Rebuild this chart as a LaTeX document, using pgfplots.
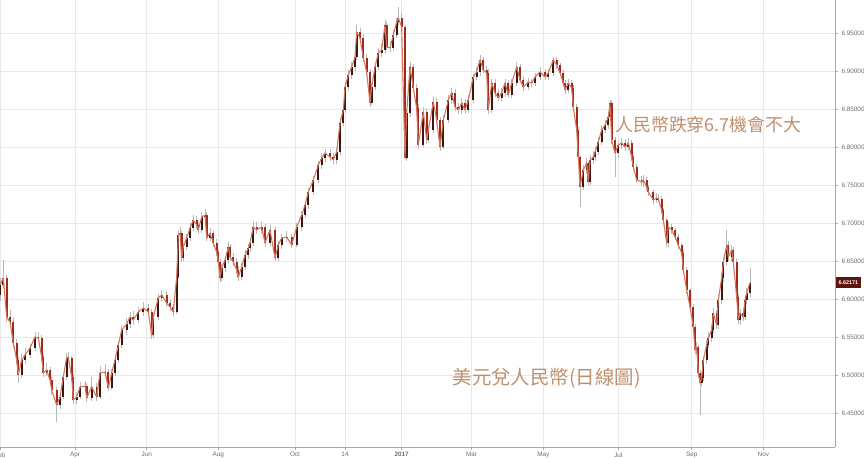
\documentclass[border=0pt]{standalone}
\usepackage{pgfplots}
\usepackage{pgfplotstable}
\pgfplotsset{compat=1.18}
\usepackage{fontspec}
\setmainfont{Liberation Sans}
\newfontfamily\cjk{Noto Sans CJK TC}

\definecolor{gridcol}{HTML}{E8E8E8}
\definecolor{axcol}{HTML}{A8A8A8}
\definecolor{labcol}{HTML}{6E6E6E}
\definecolor{linecol}{HTML}{D6765F}
\definecolor{wickcol}{HTML}{B8B8B8}
\definecolor{upcol}{HTML}{3A1812}
\definecolor{dncol}{HTML}{A22A18}
\definecolor{pricecol}{HTML}{5E150C}
\definecolor{anncol}{HTML}{BF9070}

% USD/CNY daily, x = trading day index
\pgfplotstableread{
x o h l c
0 6.6050 6.628 6.598 6.6184
2 6.6184 6.6513 6.615 6.6276
4 6.6276 6.632 6.570 6.5763
6 6.5763 6.585 6.563 6.5697
8 6.5697 6.575 6.536 6.5421
10 6.5421 6.548 6.514 6.5197
11 6.5197 6.524 6.4895 6.5000
13 6.5000 6.528 6.496 6.5197
15 6.5197 6.535 6.515 6.5263
18 6.5263 6.541 6.522 6.5355
21 6.5355 6.556 6.531 6.5500
23 6.5500 6.557 6.543 6.5487
25 6.5487 6.552 6.518 6.5237
26 6.5237 6.528 6.497 6.5026
28 6.5026 6.516 6.499 6.5066
30 6.5066 6.511 6.488 6.4934
31 6.4934 6.497 6.474 6.4803
34 6.4803 6.484 6.4382 6.4605
36 6.4605 6.477 6.455 6.4711
38 6.4711 6.502 6.468 6.4974
40 6.4974 6.529 6.494 6.5237
41 6.5237 6.530 6.516 6.5224
43 6.5224 6.525 6.492 6.4974
44 6.4974 6.501 6.462 6.4671
46 6.4671 6.478 6.462 6.4711
48 6.4711 6.491 6.468 6.4842
51 6.4842 6.492 6.479 6.4855
52 6.4855 6.489 6.465 6.4697
55 6.4697 6.498 6.466 6.4842
58 6.4842 6.489 6.466 6.4711
60 6.4711 6.512 6.468 6.5026
63 6.5026 6.514 6.497 6.5040
65 6.5040 6.508 6.479 6.4829
67 6.4829 6.508 6.480 6.5026
69 6.5026 6.526 6.499 6.5197
71 6.5197 6.545 6.516 6.5395
73 6.5395 6.566 6.536 6.5592
76 6.5592 6.575 6.553 6.5671
78 6.5671 6.583 6.562 6.5763
80 6.5763 6.584 6.566 6.5724
83 6.5724 6.590 6.568 6.5829
86 6.5829 6.596 6.578 6.5882
89 6.5882 6.594 6.577 6.5829
91 6.5829 6.587 6.548 6.5526
92 6.5526 6.581 6.549 6.5763
95 6.5763 6.607 6.572 6.6013
97 6.6013 6.612 6.596 6.6053
100 6.6053 6.610 6.589 6.5947
102 6.5947 6.599 6.584 6.5895
104 6.5895 6.594 6.578 6.5829
106 6.5829 6.633 6.580 6.6289
107 6.6289 6.691 6.626 6.6842
108 6.6842 6.695 6.679 6.6868
109 6.6868 6.690 6.649 6.6539
110 6.6539 6.674 6.650 6.6684
112 6.6684 6.686 6.664 6.6803
114 6.6803 6.700 6.676 6.6934
116 6.6934 6.711 6.689 6.7039
118 6.7039 6.709 6.692 6.6974
119 6.6974 6.701 6.685 6.6908
121 6.6908 6.714 6.687 6.7079
123 6.7079 6.718 6.703 6.7105
124 6.7105 6.714 6.676 6.6803
126 6.6803 6.694 6.676 6.6868
128 6.6868 6.691 6.669 6.6737
130 6.6737 6.679 6.657 6.6618
131 6.6618 6.666 6.644 6.6487
132 6.6487 6.652 6.623 6.6276
133 6.6276 6.646 6.624 6.6408
135 6.6408 6.657 6.636 6.6513
137 6.6513 6.675 6.647 6.6684
138 6.6684 6.672 6.650 6.6553
140 6.6553 6.660 6.644 6.6487
142 6.6487 6.654 6.633 6.6382
143 6.6382 6.643 6.624 6.6289
145 6.6289 6.648 6.625 6.6421
147 6.6421 6.664 6.638 6.6579
149 6.6579 6.673 6.653 6.6671
150 6.6671 6.680 6.662 6.6737
152 6.6737 6.702 6.670 6.6947
154 6.6947 6.701 6.686 6.6908
157 6.6908 6.702 6.686 6.6947
159 6.6947 6.699 6.669 6.6737
162 6.6737 6.697 6.670 6.6908
165 6.6908 6.695 6.650 6.6539
167 6.6539 6.676 6.650 6.6711
169 6.6711 6.686 6.666 6.6803
172 6.6803 6.689 6.675 6.6816
175 6.6816 6.686 6.667 6.6711
178 6.6711 6.700 6.668 6.6947
181 6.6947 6.716 6.690 6.7105
183 6.7105 6.729 6.706 6.7237
185 6.7237 6.746 6.719 6.7408
188 6.7408 6.762 6.737 6.7566
191 6.7566 6.782 6.752 6.7763
193 6.7763 6.792 6.771 6.7855
195 6.7855 6.798 6.780 6.7921
198 6.7921 6.797 6.781 6.7868
200 6.7868 6.792 6.777 6.7829
202 6.7829 6.799 6.778 6.7934
204 6.7934 6.838 6.790 6.8316
206 6.8316 6.855 6.827 6.8487
207 6.8487 6.886 6.845 6.8789
209 6.8789 6.901 6.874 6.8947
211 6.8947 6.912 6.890 6.9053
213 6.9053 6.925 6.900 6.9184
214 6.9184 6.960 6.914 6.9513
216 6.9513 6.957 6.938 6.9434
218 6.9434 6.949 6.912 6.9171
220 6.9171 6.922 6.894 6.8987
222 6.8987 6.903 6.853 6.8579
223 6.8579 6.884 6.855 6.8789
225 6.8789 6.911 6.875 6.9053
227 6.9053 6.930 6.901 6.9237
229 6.9237 6.935 6.918 6.9276
231 6.9276 6.967 6.923 6.9605
232 6.9605 6.964 6.927 6.9316
234 6.9316 6.939 6.925 6.9303
236 6.9303 6.954 6.926 6.9474
238 6.9474 6.970 6.943 6.9645
239 6.9645 6.9842 6.960 6.9697
241 6.9697 6.976 6.952 6.9579
243 6.9579 6.960 6.7842 6.7855
244 6.7855 6.850 6.782 6.8447
246 6.8447 6.912 6.840 6.9053
248 6.9053 6.909 6.872 6.8776
250 6.8776 6.883 6.846 6.8513
251 6.8513 6.856 6.797 6.8026
254 6.8026 6.852 6.800 6.8461
256 6.8461 6.851 6.804 6.8092
257 6.8092 6.829 6.805 6.8224
260 6.8224 6.866 6.818 6.8592
262 6.8592 6.864 6.830 6.8355
264 6.8355 6.840 6.795 6.8000
266 6.8000 6.842 6.797 6.8355
269 6.8355 6.868 6.831 6.8618
271 6.8618 6.878 6.857 6.8711
273 6.8711 6.876 6.848 6.8526
275 6.8526 6.858 6.843 6.8487
277 6.8487 6.864 6.844 6.8579
279 6.8579 6.863 6.844 6.8487
281 6.8487 6.868 6.845 6.8618
284 6.8618 6.898 6.858 6.8921
286 6.8921 6.905 6.888 6.8987
288 6.8987 6.921 6.894 6.9145
290 6.9145 6.919 6.897 6.9013
292 6.9013 6.906 6.893 6.8974
293 6.8974 6.902 6.844 6.8487
295 6.8487 6.890 6.845 6.8842
297 6.8842 6.889 6.866 6.8711
299 6.8711 6.876 6.860 6.8645
301 6.8645 6.877 6.860 6.8711
303 6.8711 6.890 6.866 6.8842
305 6.8842 6.888 6.864 6.8684
307 6.8684 6.890 6.864 6.8842
310 6.8842 6.912 6.880 6.9053
312 6.9053 6.909 6.884 6.8882
314 6.8882 6.893 6.874 6.8789
317 6.8789 6.891 6.875 6.8855
319 6.8855 6.890 6.879 6.8842
321 6.8842 6.897 6.880 6.8921
324 6.8921 6.905 6.888 6.8987
327 6.8987 6.903 6.888 6.8921
329 6.8921 6.902 6.888 6.8974
332 6.8974 6.919 6.893 6.9145
334 6.9145 6.918 6.903 6.9079
336 6.9079 6.911 6.893 6.8974
338 6.8974 6.901 6.880 6.8842
339 6.8842 6.888 6.870 6.8750
341 6.8750 6.890 6.871 6.8842
343 6.8842 6.888 6.873 6.8776
344 6.8776 6.881 6.848 6.8526
346 6.8526 6.856 6.818 6.8224
347 6.8224 6.826 6.782 6.7868
348 6.7868 6.790 6.7211 6.7474
350 6.7474 6.776 6.744 6.7697
352 6.7697 6.786 6.765 6.7789
353 6.7789 6.782 6.749 6.7539
354 6.7539 6.789 6.750 6.7829
356 6.7829 6.795 6.778 6.7868
357 6.7868 6.800 6.782 6.7934
359 6.7934 6.813 6.789 6.8066
361 6.8066 6.829 6.802 6.8224
363 6.8224 6.836 6.818 6.8289
365 6.8289 6.846 6.824 6.8395
366 6.8395 6.862 6.835 6.8579
367 6.8579 6.861 6.804 6.8092
369 6.8092 6.813 6.760 6.7921
371 6.7921 6.808 6.786 6.8026
373 6.8026 6.812 6.798 6.8053
375 6.8053 6.811 6.795 6.8000
377 6.8000 6.812 6.796 6.8053
379 6.8053 6.809 6.782 6.7868
380 6.7868 6.790 6.769 6.7737
382 6.7737 6.777 6.752 6.7566
385 6.7566 6.762 6.749 6.7539
386 6.7539 6.763 6.748 6.7566
388 6.7566 6.760 6.742 6.7474
389 6.7474 6.750 6.736 6.7408
392 6.7408 6.745 6.725 6.7303
394 6.7303 6.739 6.726 6.7329
395 6.7329 6.738 6.727 6.7316
397 6.7316 6.735 6.712 6.7171
398 6.7171 6.720 6.699 6.7039
400 6.7039 6.707 6.669 6.6737
401 6.6737 6.701 6.668 6.6947
403 6.6947 6.699 6.686 6.6908
405 6.6908 6.694 6.677 6.6816
407 6.6816 6.685 6.666 6.6711
409 6.6711 6.674 6.656 6.6605
410 6.6605 6.664 6.634 6.6382
412 6.6382 6.642 6.607 6.6118
414 6.6118 6.615 6.585 6.5895
416 6.5895 6.593 6.558 6.5632
417 6.5632 6.567 6.528 6.5329
418 6.5329 6.543 6.527 6.5368
419 6.5368 6.540 6.497 6.5026
420 6.5026 6.506 6.4474 6.4895
421 6.4895 6.503 6.485 6.4961
422 6.4961 6.525 6.492 6.5197
424 6.5197 6.546 6.515 6.5395
425 6.5395 6.556 6.535 6.5487
427 6.5487 6.566 6.544 6.5592
428 6.5592 6.588 6.555 6.5816
430 6.5816 6.586 6.561 6.5658
431 6.5658 6.605 6.561 6.5987
433 6.5987 6.634 6.594 6.6276
434 6.6276 6.655 6.623 6.6487
436 6.6487 6.691 6.644 6.6711
437 6.6711 6.676 6.650 6.6553
439 6.6553 6.671 6.650 6.6645
440 6.6645 6.669 6.644 6.6487
442 6.6487 6.653 6.598 6.6026
443 6.6026 6.606 6.567 6.5724
444 6.5724 6.587 6.566 6.5816
446 6.5816 6.588 6.571 6.5763
447 6.5763 6.604 6.572 6.5987
448 6.5987 6.614 6.594 6.6079
450 6.6079 6.6408 6.603 6.62171
}\usdcny

\begin{document}
\begin{tikzpicture}
\useasboundingbox (0,0) rectangle (864bp,458bp);
\begin{axis}[
  at={(0,11bp)}, anchor=south west,
  scale only axis, width=835bp, height=447bp,
  xmin=0, xmax=501, ymin=6.4053, ymax=6.9934,
  clip=false,
  axis x line*=bottom, axis y line*=right,
  axis line style={draw=axcol, line width=0.9bp},
  tick align=outside, major tick length=3bp,
  tick style={draw=axcol, line width=0.6bp},
  grid=major, major grid style={draw=gridcol, line width=0.7bp},
  xtick={0,45,88,131,177,207,241,283,326,371,415,458},
  xticklabels={Feb,Apr,Jun,Aug,Oct,14,\textbf{2017},Mar,May,Jul,Sep,Nov},
  ytick={6.45,6.50,6.55,6.60,6.65,6.70,6.75,6.80,6.85,6.90,6.95},
  ticklabel style={font=\fontsize{6.4}{7}\selectfont, text=labcol},
  yticklabel style={/pgf/number format/.cd, fixed, fixed zerofill, precision=5, assume math mode=true},
  xticklabel style={yshift=1bp},
]
% wicks
\addplot[draw=none, forget plot,
  error bars/.cd, y dir=plus, y explicit, error mark=none,
  error bar style={draw=wickcol, solid, line width=0.8bp}]
  table[x=x, y=l, y error expr=\thisrow{h}-\thisrow{l}] \usdcny;
% rising bodies
\addplot[draw=none, forget plot,
  restrict expr to domain={\thisrow{c}-\thisrow{o}}{0:1},
  error bars/.cd, y dir=plus, y explicit, error mark=none,
  error bar style={draw=upcol, solid, line width=1.9bp}]
  table[x=x, y expr={min(\thisrow{o},\thisrow{c})}, y error expr={abs(\thisrow{c}-\thisrow{o})}] \usdcny;
% falling bodies
\addplot[draw=none, forget plot,
  restrict expr to domain={\thisrow{c}-\thisrow{o}}{-1:0},
  error bars/.cd, y dir=plus, y explicit, error mark=none,
  error bar style={draw=dncol, solid, line width=1.9bp}]
  table[x=x, y expr={min(\thisrow{o},\thisrow{c})}, y error expr={abs(\thisrow{c}-\thisrow{o})}] \usdcny;
% close line
\addplot[linecol, line width=1.1bp, line join=round] table[x=x, y=c] \usdcny;

\node[fill=pricecol, text=white, font=\fontsize{5.4}{6}\selectfont\bfseries,
  inner xsep=2.5bp, inner ysep=0pt, minimum height=11.5bp, anchor=west]
  at (axis cs:501.6,6.62171) {6.62171};

\node[anchor=west, inner sep=0pt, text=anncol, font=\cjk\fontsize{18}{20}\selectfont]
  at (axis cs:369,6.829) {人民幣跌穿6.7機會不大};
\node[anchor=west, inner sep=0pt, text=anncol, font=\cjk\fontsize{19.5}{22}\selectfont]
  at (axis cs:271.5,6.496) {美元兌人民幣(日線圖)};
\end{axis}
\end{tikzpicture}
\end{document}
